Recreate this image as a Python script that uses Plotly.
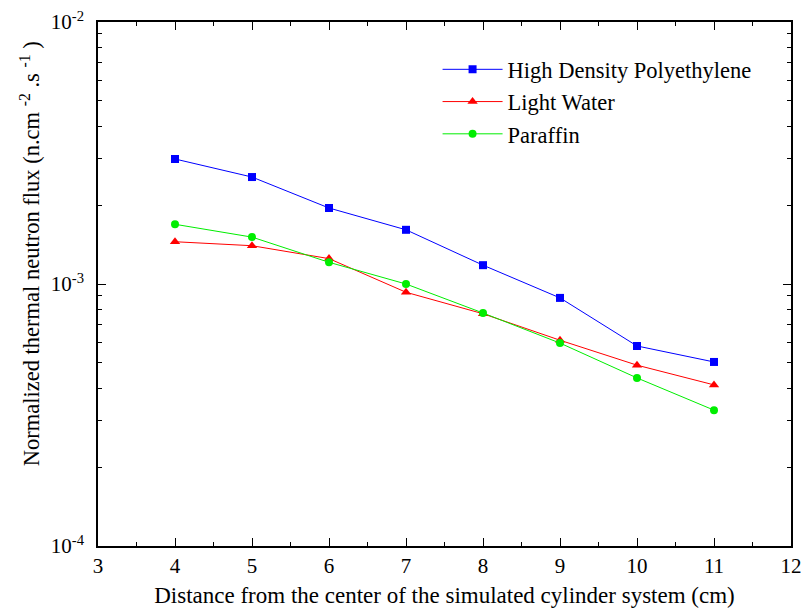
import plotly.graph_objects as go

distance = [4, 5, 6, 7, 8, 9, 10, 11]
hdpe = [3.0e-3, 2.56e-3, 1.95e-3, 1.61e-3, 1.18e-3, 8.85e-4, 5.8e-4, 5.04e-4]
light_water = [1.45e-3, 1.40e-3, 1.25e-3, 9.3e-4, 7.7e-4, 6.1e-4, 4.9e-4, 4.12e-4]
paraffin = [1.69e-3, 1.51e-3, 1.21e-3, 1.0e-3, 7.75e-4, 5.95e-4, 4.38e-4, 3.3e-4]

y_tickvals = [1e-4, 1e-3, 1e-2]
y_ticktext = ["10<sup>-4</sup>", "10<sup>-3</sup>", "10<sup>-2</sup>"]
y_minor = [m * 10 ** e for e in (-4, -3) for m in range(2, 10)]
y_title = "Normalized thermal neutron flux (n.cm <sup>-2</sup> .s <sup>-1</sup> )"

FONT = "Liberation Serif"

fig = go.Figure()
fig.add_trace(go.Scatter(x=distance, y=hdpe, mode="lines+markers", name="High Density Polyethylene",
                         line=dict(color="#0000ff", width=1), marker=dict(symbol="square", size=8, color="#0000ff")))
fig.add_trace(go.Scatter(x=distance, y=light_water, mode="lines+markers", name="Light Water",
                         line=dict(color="#ff0000", width=1), marker=dict(symbol="triangle-up", size=9, color="#ff0000")))
fig.add_trace(go.Scatter(x=distance, y=paraffin, mode="lines+markers", name="Paraffin",
                         line=dict(color="#00ee00", width=1), marker=dict(symbol="circle", size=8, color="#00ee00")))

fig.update_layout(
    width=803, height=614,
    margin=dict(l=98, r=12, t=22, b=68),
    paper_bgcolor="white", plot_bgcolor="white",
    font=dict(family=FONT, size=22, color="black"),
    showlegend=True,
    legend=dict(x=0.49, y=0.95, xanchor="left", yanchor="top", bgcolor="rgba(0,0,0,0)",
                font=dict(family=FONT, size=22.5), tracegroupgap=0, itemwidth=60),
    xaxis=dict(
        range=[3, 12], tickmode="linear", tick0=3, dtick=1, automargin=False,
        ticks="inside", ticklen=8, tickwidth=1, tickcolor="black",
        showline=True, linecolor="black", linewidth=1.5, mirror="ticks",
        showgrid=False, zeroline=False,
        minor=dict(ticks="inside", ticklen=4, dtick=0.5, tick0=3, tickcolor="black", showgrid=False),
        tickfont=dict(family=FONT, size=21),
        title=dict(text="Distance from the center of the simulated cylinder system (cm)", font=dict(family=FONT, size=23), standoff=10),
    ),
    yaxis=dict(
        type="log", range=[-4, -2], automargin=False,
        tickmode="array", tickvals=y_tickvals, ticktext=y_ticktext,
        ticks="inside", ticklen=8, tickwidth=1, tickcolor="black",
        showline=True, linecolor="black", linewidth=1.5, mirror="ticks",
        showgrid=False, zeroline=False, ticklabelstandoff=8,
        minor=dict(ticks="inside", ticklen=4, tickmode="array", tickvals=y_minor, tickcolor="black", showgrid=False),
        tickfont=dict(family=FONT, size=21),
    ),
    annotations=[dict(text=y_title, xref="paper", yref="paper", x=-0.098, y=0.557,
                      xanchor="center", yanchor="middle", textangle=-90, showarrow=False,
                      font=dict(family=FONT, size=22.5))],
)

fig.write_html("out.html", config={"displayModeBar": False},
               post_script="document.body.style.margin='0';document.body.style.padding='0';")
